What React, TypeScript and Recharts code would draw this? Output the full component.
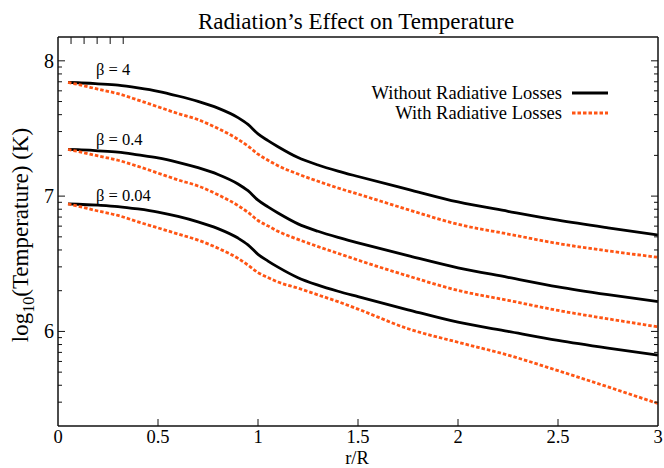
import { LineChart, Line, XAxis, YAxis, ReferenceDot, Legend } from 'recharts';

// r/R sample positions
const radius = [0.05, 0.1, 0.2, 0.3, 0.4, 0.5, 0.6, 0.7, 0.8, 0.9, 0.95, 1.0, 1.05, 1.1, 1.2, 1.3, 1.4, 1.5, 1.75, 2.0, 2.25, 2.5, 2.75, 3.0];

// log10(T) without radiative losses
const noLossBeta4 = [7.84, 7.838, 7.83, 7.82, 7.8, 7.775, 7.74, 7.7, 7.65, 7.58, 7.53, 7.46, 7.41, 7.365, 7.285, 7.23, 7.185, 7.145, 7.05, 6.957, 6.888, 6.822, 6.765, 6.712];
const noLossBeta04 = [7.345, 7.343, 7.335, 7.325, 7.305, 7.283, 7.25, 7.21, 7.16, 7.09, 7.04, 6.97, 6.92, 6.875, 6.795, 6.74, 6.695, 6.655, 6.56, 6.47, 6.4, 6.33, 6.272, 6.22];
const noLossBeta004 = [6.942, 6.94, 6.933, 6.923, 6.905, 6.882, 6.85, 6.81, 6.76, 6.69, 6.64, 6.57, 6.52, 6.475, 6.397, 6.342, 6.297, 6.257, 6.16, 6.068, 6.0, 5.933, 5.876, 5.824];

// log10(T) with radiative losses
const lossBeta4 = [7.84, 7.825, 7.79, 7.757, 7.71, 7.66, 7.61, 7.565, 7.5, 7.42, 7.37, 7.31, 7.265, 7.225, 7.163, 7.11, 7.06, 7.015, 6.9, 6.792, 6.72, 6.65, 6.595, 6.548];
const lossBeta04 = [7.345, 7.33, 7.297, 7.265, 7.22, 7.17, 7.12, 7.075, 7.01, 6.93, 6.88, 6.82, 6.78, 6.74, 6.68, 6.627, 6.577, 6.527, 6.41, 6.303, 6.23, 6.155, 6.093, 6.034];
const lossBeta004 = [6.942, 6.925, 6.89, 6.857, 6.81, 6.765, 6.72, 6.675, 6.615, 6.54, 6.49, 6.435, 6.398, 6.365, 6.32, 6.27, 6.22, 6.165, 6.02, 5.92, 5.825, 5.71, 5.59, 5.467];

const xTicks = [0, 0.5, 1, 1.5, 2, 2.5, 3];
const yMajor = [6, 7, 8];
// minor log ticks, in kelvin
const minorTemps = [3e5, 4e5, 5e5, 6e5, 7e5, 8e5, 9e5, 2e6, 3e6, 4e6, 5e6, 6e6, 7e6, 8e6, 9e6, 2e7, 3e7, 4e7, 5e7, 6e7, 7e7, 8e7, 9e7];
const yTicks = [...yMajor, ...minorTemps.map((t) => Math.log10(t))];

const betaLabels = ['β = 4', 'β = 0.4', 'β = 0.04'];
const betaLabelY = [7.935, 7.42, 7.005];

const data = radius.map((r, i) => ({
  r,
  b4: noLossBeta4[i],
  o4: lossBeta4[i],
  b04: noLossBeta04[i],
  o04: lossBeta04[i],
  b004: noLossBeta004[i],
  o004: lossBeta004[i],
}));

const FONT = '"Liberation Serif", "DejaVu Serif", serif';
const ORANGE = '#ff5514';
const DASH = '3.5 2';
const AXIS = '#111';

const LeftTick = ({ x, y, payload }: any) => {
  const major = yMajor.includes(payload.value);
  return (
    <g>
      <line x1={x} x2={x + (major ? 7 : 4)} y1={y} y2={y} stroke={AXIS} strokeWidth={1} />
      {major && (
        <text x={x - 4} y={y} dy="0.35em" textAnchor="end" fontSize={20} fontFamily={FONT} fill="#000">
          {payload.value}
        </text>
      )}
    </g>
  );
};

const RightTick = ({ x, y, payload }: any) => {
  const major = yMajor.includes(payload.value);
  return <line x1={x} x2={x - (major ? 7 : 4)} y1={y} y2={y} stroke={AXIS} strokeWidth={1} />;
};

const BottomTick = ({ x, y, payload }: any) => {
  const edge = payload.value === 0 || payload.value === 3;
  return (
    <g>
      {!edge && <line x1={x} x2={x} y1={y} y2={y - 7} stroke={AXIS} strokeWidth={1} />}
      <text x={x} y={y + 17} textAnchor="middle" fontSize={18.5} fontFamily={FONT} fill="#000">
        {payload.value}
      </text>
    </g>
  );
};

const TopTick = ({ x, y, payload }: any) => {
  const edge = payload.value === 0 || payload.value === 3;
  if (edge) return <g />;
  return <line x1={x} x2={x} y1={y} y2={y + 7} stroke={AXIS} strokeWidth={1} />;
};

const LegendBox = () => (
  <div style={{ fontFamily: FONT, fontSize: 18.5, color: '#000', lineHeight: '20px' }}>
    {[
      { name: 'Without Radiative Losses', dash: undefined, color: '#000' },
      { name: 'With Radiative Losses', dash: DASH, color: ORANGE },
    ].map((it) => (
      <div key={it.name} style={{ display: 'flex', justifyContent: 'flex-end', alignItems: 'center', height: 20 }}>
        <span>{it.name}</span>
        <svg width={46} height={10} style={{ marginLeft: 9 }}>
          <line x1={1} x2={37} y1={5} y2={5} stroke={it.color} strokeWidth={2.8} strokeDasharray={it.dash} />
        </svg>
      </div>
    ))}
  </div>
);

export default function App() {
  return (
    <div style={{ position: 'absolute', left: 0, top: 0, background: '#fff' }}>
      <LineChart width={664} height={468} data={data} margin={{ top: 0, right: 0, bottom: 0, left: 0 }}>
        <XAxis
          dataKey="r"
          type="number"
          domain={[0, 3]}
          ticks={xTicks}
          interval={0}
          height={42}
          tickSize={0}
          tickMargin={0}
          tick={BottomTick}
          tickLine={false}
          stroke={AXIS}
          strokeWidth={1.5}
          label={{
            content: () => (
              <text x={357} y={464} textAnchor="middle" fontSize={18.5} fontFamily={FONT} fill="#000">
                r/R
              </text>
            ),
          }}
        />
        <XAxis
          xAxisId="top"
          orientation="top"
          type="number"
          domain={[0, 3]}
          ticks={xTicks}
          interval={0}
          height={37}
          tickSize={0}
          tickMargin={0}
          tick={TopTick}
          tickLine={false}
          stroke={AXIS}
          strokeWidth={1.5}
          allowDataOverflow
          label={{
            content: () => (
              <text x={356} y={29} textAnchor="middle" fontSize={23} fontFamily={FONT} fill="#000">
                Radiation’s Effect on Temperature
              </text>
            ),
          }}
        />
        <YAxis
          yAxisId="left"
          type="number"
          domain={[5.301, 8.176]}
          ticks={yTicks}
          interval={0}
          width={58}
          tickSize={0}
          tickMargin={0}
          tick={LeftTick}
          tickLine={false}
          stroke={AXIS}
          strokeWidth={1.5}
          allowDataOverflow
          label={{
            content: () => (
              <text
                x={20}
                y={235}
                transform="rotate(-90, 20, 235)"
                textAnchor="middle"
                dy="0.35em"
                fontSize={23}
                fontFamily={FONT}
                fill="#000"
              >
                log<tspan dy={6} fontSize={16}>10</tspan>
                <tspan dy={-6}>(Temperature) (K)</tspan>
              </text>
            ),
          }}
        />
        <YAxis
          yAxisId="right"
          orientation="right"
          type="number"
          domain={[5.301, 8.176]}
          ticks={yTicks}
          interval={0}
          width={6}
          tickSize={0}
          tickMargin={0}
          tick={RightTick}
          tickLine={false}
          stroke={AXIS}
          strokeWidth={1.5}
          allowDataOverflow
        />
        <Legend
          layout="horizontal"
          verticalAlign="middle"
          align="center"
          content={LegendBox}
          wrapperStyle={{ position: 'absolute', top: 83, left: 277, width: 340 }}
        />
        {(['b4', 'b04', 'b004'] as const).map((k) => (
          <Line
            key={k}
            yAxisId="left"
            dataKey={k}
            type="monotone"
            stroke="#000"
            strokeWidth={2.8}
            dot={false}
            isAnimationActive={false}
          />
        ))}
        {(['o4', 'o04', 'o004'] as const).map((k) => (
          <Line
            key={k}
            yAxisId="left"
            dataKey={k}
            type="monotone"
            stroke={ORANGE}
            strokeWidth={2.8}
            strokeDasharray={DASH}
            dot={false}
            isAnimationActive={false}
          />
        ))}
        {betaLabels.map((t, i) => (
          <ReferenceDot
            key={t}
            yAxisId="left"
            x={0.19}
            y={betaLabelY[i]}
            r={0}
            fill="none"
            stroke="none"
            label={{
              content: ({ viewBox }: any) => (
                <text x={viewBox.x} y={viewBox.y} dy="0.35em" fontSize={16.5} fontFamily={FONT} fill="#000">
                  {t}
                </text>
              ),
            }}
          />
        ))}
      </LineChart>
    </div>
  );
}
